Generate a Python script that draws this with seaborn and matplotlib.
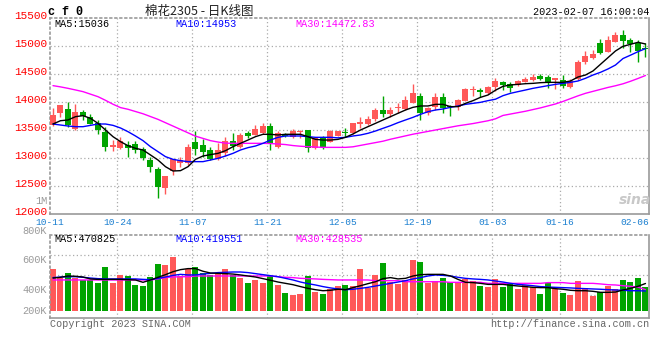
import matplotlib

matplotlib.use("Agg")
import matplotlib.pyplot as plt
import matplotlib.transforms as mtransforms
import numpy as np
import pandas as pd
import seaborn as sns

# CF2305 daily bars, 2022-10-11 .. 2023-02-07
OPEN = [13589, 13803, 13875, 13518, 13816, 13732, 13625, 13470, 13202, 13173,
        13232, 13244, 13155, 12964, 12804, 12459, 12768, 12905, 12905, 13290,
        13232, 13143, 12982, 13095, 13304, 13202, 13453, 13411, 13453, 13571,
        13202, 13420, 13369, 13470, 13500, 13173, 13369, 13292, 13399, 13455,
        13441, 13601, 13607, 13696, 13857, 13786, 13890, 13881, 13988, 14107,
        13810, 13917, 14083, 13925, 13917, 14024, 14220, 14220, 14155, 14274,
        14351, 14315, 14304, 14363, 14393, 14470, 14452, 14393, 14393, 14274,
        14411, 14708, 14780, 15048, 14899, 15077, 15196, 15107, 15048, 14964]
CLOSE = [13768, 13946, 13589, 13821, 13755, 13612, 13505, 13202, 13232, 13303,
         13184, 13143, 12994, 12845, 12488, 12679, 12975, 12964, 13202, 13160,
         13113, 12982, 13143, 13304, 13220, 13411, 13399, 13524, 13571, 13262,
         13441, 13395, 13488, 13482, 13173, 13351, 13202, 13488, 13482, 13441,
         13631, 13649, 13696, 13857, 13786, 13857, 13917, 14036, 14167, 13798,
         13893, 14083, 13893, 13917, 14036, 14232, 14232, 14179, 14274, 14375,
         14304, 14256, 14375, 14405, 14452, 14410, 14363, 14423, 14292, 14375,
         14720, 14827, 14857, 14869, 15107, 15196, 15089, 15030, 14911, 14946]
HIGH = [13893, 13950, 14000, 13964, 13857, 13780, 13679, 13559, 13321, 13380,
        13303, 13303, 13202, 13023, 12845, 12679, 12990, 13023, 13245, 13482,
        13334, 13202, 13262, 13381, 13441, 13441, 13488, 13595, 13631, 13631,
        13488, 13450, 13512, 13500, 13500, 13369, 13393, 13500, 13490, 13530,
        13631, 13738, 13750, 13893, 14107, 13917, 13988, 14113, 14321, 14155,
        13917, 14167, 14155, 13946, 14050, 14250, 14286, 14256, 14292, 14423,
        14375, 14351, 14393, 14452, 14494, 14494, 14482, 14435, 14482, 14411,
        14750, 14905, 14922, 15125, 15178, 15256, 15286, 15149, 15107, 15048]
LOW = [13571, 13726, 13554, 13500, 13679, 13600, 13423, 13125, 13125, 13160,
       13023, 13084, 12964, 12755, 12280, 12352, 12696, 12845, 12875, 13053,
       13012, 12964, 12964, 13036, 13143, 13173, 13351, 13411, 13429, 13143,
       13185, 13370, 13351, 13351, 13101, 13160, 13155, 13280, 13390, 13381,
       13429, 13530, 13589, 13666, 13738, 13738, 13798, 13857, 13988, 13679,
       13768, 13857, 13810, 13750, 13857, 14012, 14107, 14083, 14140, 14197,
       14214, 14185, 14280, 14351, 14375, 14393, 14244, 14226, 14256, 14256,
       14400, 14672, 14770, 14851, 14890, 15070, 14971, 14899, 14720, 14810]

MA5 = [13607, 13666, 13679, 13738, 13756, 13708, 13619, 13500, 13381, 13292,
       13220, 13173, 13143, 13054, 12964, 12845, 12768, 12774, 12845, 12976,
       13036, 13060, 13083, 13131, 13202, 13262, 13321, 13381, 13423, 13423,
       13411, 13423, 13423, 13423, 13381, 13333, 13321, 13321, 13333, 13369,
       13429, 13500, 13560, 13619, 13679, 13738, 13798, 13857, 13905, 13929,
       13929, 13958, 13958, 13917, 13917, 13976, 14024, 14083, 14125, 14210,
       14280, 14304, 14315, 14327, 14333, 14345, 14351, 14351, 14351, 14375,
       14446, 14482, 14554, 14673, 14792, 14911, 14994, 15030, 15066, 15036]
MA10 = [13607, 13589, 13571, 13559, 13559, 13583, 13607, 13607, 13583, 13536,
        13470, 13393, 13310, 13202, 13113, 13024, 12976, 12952, 12935, 12935,
        12935, 12964, 12994, 13036, 13083, 13143, 13185, 13214, 13262, 13321,
        13369, 13393, 13393, 13393, 13381, 13369, 13369, 13369, 13360, 13369,
        13393, 13411, 13441, 13482, 13530, 13577, 13631, 13679, 13726, 13780,
        13827, 13857, 13875, 13905, 13929, 13958, 13976, 13994, 14024, 14050,
        14113, 14155, 14185, 14214, 14244, 14268, 14292, 14315, 14333, 14351,
        14375, 14423, 14482, 14530, 14590, 14660, 14776, 14836, 14898, 14953]
MA30 = [14292, 14270, 14244, 14215, 14185, 14140, 14095, 14030, 13960, 13900,
        13870, 13830, 13790, 13740, 13690, 13630, 13570, 13510, 13450, 13390,
        13350, 13310, 13285, 13265, 13262, 13262, 13262, 13262, 13262, 13258,
        13250, 13240, 13222, 13210, 13202, 13196, 13190, 13190, 13190, 13190,
        13200, 13225, 13250, 13275, 13300, 13335, 13365, 13395, 13425, 13450,
        13475, 13500, 13525, 13550, 13575, 13595, 13615, 13640, 13665, 13700,
        13760, 13785, 13810, 13835, 13865, 13895, 13930, 13965, 14010, 14060,
        14110, 14155, 14190, 14225, 14260, 14290, 14325, 14370, 14420, 14473]

VOLUME = [569, 511, 542, 511, 495, 495, 475, 583, 475, 531,
          522, 461, 454, 515, 603, 597, 653, 522, 569, 583,
          542, 529, 542, 569, 529, 508, 475, 495, 475, 522,
          461, 407, 393, 400, 522, 414, 400, 434, 454, 461,
          454, 569, 443, 529, 610, 483, 468, 495, 630, 617,
          475, 488, 508, 479, 479, 502, 488, 454, 447, 502,
          447, 468, 434, 461, 447, 400, 475, 434, 407, 393,
          488, 441, 386, 414, 454, 434, 495, 483, 511, 450]  # thousands
VOL_MA5 = [508, 513, 522, 520, 515, 502, 499, 499, 499, 499,
           497, 495, 479, 495, 513, 531, 551, 565, 572, 572,
           554, 542, 540, 538, 535, 529, 522, 515, 504, 493,
           481, 472, 463, 450, 438, 429, 422, 425, 432, 429,
           443, 456, 470, 483, 504, 511, 502, 506, 522, 531,
           533, 533, 533, 522, 499, 479, 477, 472, 465, 465,
           465, 459, 454, 450, 445, 443, 443, 436, 432, 425,
           422, 422, 418, 411, 411, 413, 427, 438, 452, 471]
VOL_MA10 = [511, 515, 517, 517, 513, 508, 504, 502, 502, 502,
            502, 502, 499, 497, 506, 515, 526, 533, 529, 529,
            535, 540, 545, 547, 549, 549, 545, 538, 531, 524,
            517, 506, 495, 481, 470, 461, 450, 441, 434, 429,
            432, 438, 445, 454, 463, 472, 481, 490, 502, 511,
            522, 529, 526, 522, 513, 506, 502, 499, 495, 488,
            481, 472, 465, 461, 456, 450, 447, 445, 443, 441,
            438, 436, 434, 432, 429, 427, 425, 422, 422, 420]
VOL_MA30 = [495, 495, 495, 495, 495, 495, 495, 495, 495, 495,
            495, 495, 495, 495, 502, 511, 515, 517, 517, 522,
            522, 522, 522, 522, 522, 522, 522, 522, 522, 522,
            517, 513, 511, 506, 504, 502, 499, 497, 495, 495,
            495, 495, 495, 490, 490, 490, 490, 483, 483, 483,
            483, 483, 483, 479, 479, 479, 479, 479, 472, 472,
            472, 472, 472, 472, 472, 472, 477, 477, 477, 472,
            472, 472, 472, 468, 463, 461, 456, 452, 447, 429]

DATE_LABELS = ["10-11", "10-24", "11-07", "11-21", "12-05", "12-19", "01-03", "01-16", "02-06"]
DATE_LABEL_INDEX = [0, 9, 19, 29, 39, 49, 59, 68, 78]
PRICE_TICKS = list(range(12000, 15501, 500))
VOL_LABELS = ["1M", "800K", "600K", "400K", "200K"]
VOL_LABEL_VALUES = [1000, 800, 600, 400, 285]

RED = "#ff5858"
GREEN = "#00a400"
GRID = "#ababab"
BORDER = "#9a9a9a"
MONO = "Liberation Mono"
W, H = 660, 360


def box(left, top, right, bottom):
    return [left / W, 1 - bottom / H, (right - left) / W, (bottom - top) / H]


def px(x, y):
    return x / W, 1 - y / H


def style_axes(ax, vlines, hlines):
    for x in vlines:
        ax.axvline(x, color=GRID, lw=0.9, ls=(0, (1, 2)), zorder=0)
    for y in hlines:
        ax.axhline(y, color=GRID, lw=0.9, ls=(0, (1, 2)), zorder=0)
    for side, spine in ax.spines.items():
        spine.set_visible(True)
        spine.set_color(BORDER)
        spine.set_linewidth(1.2)
        if side in ("top", "left"):
            spine.set_linestyle((0, (1, 2)))


sns.set_theme(style="white")
plt.rcParams["font.family"] = [MONO, "Noto Sans CJK SC", "DejaVu Sans"]

df = pd.DataFrame({"open": OPEN, "high": HIGH, "low": LOW, "close": CLOSE,
                   "ma5": MA5, "ma10": MA10, "ma30": MA30,
                   "vol": np.array(VOLUME) * 1000, "vma5": np.array(VOL_MA5) * 1000,
                   "vma10": np.array(VOL_MA10) * 1000, "vma30": np.array(VOL_MA30) * 1000})
df["x"] = np.arange(len(df))
colors = np.where(df["close"] >= df["open"], RED, GREEN)

fig = plt.figure(figsize=(6.6, 3.6), dpi=100)
fig.patch.set_facecolor("white")
ax = fig.add_axes(box(50, 18, 649, 214))
axv = fig.add_axes(box(50, 235, 649, 318))

xlim = (-0.4, len(df) - 0.53)
grid_x = [i - 0.4 for i in DATE_LABEL_INDEX[1:-1]]

# price panel
ax.set_xlim(*xlim)
ax.set_ylim(12000, 15500)
style_axes(ax, grid_x, PRICE_TICKS[1:-1])
ax.vlines(df["x"], df["low"], df["high"], colors=colors, lw=1, zorder=2)
body_low = np.minimum(df["open"], df["close"])
body_h = np.maximum((df["close"] - df["open"]).abs(), 18)
ax.bar(df["x"], body_h, bottom=body_low, width=0.8, color=colors, lw=0, zorder=3)
for col, c in (("ma30", "#ff00ff"), ("ma10", "#0000ff"), ("ma5", "black")):
    sns.lineplot(data=df, x="x", y=col, ax=ax, color=c, lw=1, zorder=4)
ax.set_xlabel("")
ax.set_ylabel("")
ax.set_yticks(PRICE_TICKS)
ax.set_yticklabels([str(t) for t in PRICE_TICKS])
ax.set_xticks([i - 0.4 for i in DATE_LABEL_INDEX])
ax.set_xticklabels(DATE_LABELS)
ax.tick_params(axis="y", length=0, pad=2, labelsize=8, labelcolor="#ff0000")
ax.tick_params(axis="x", length=0, pad=3, labelsize=6.8, labelcolor="#1a7fd0")
lift = mtransforms.ScaledTranslation(0, 2 / 72, fig.dpi_scale_trans)
for lab in ax.get_yticklabels():
    lab.set_transform(lab.get_transform() + lift)

# volume panel
VOL_BASE = 285000
axv.set_xlim(*xlim)
axv.set_ylim(237000, 800000)
style_axes(axv, grid_x, [393000, 529000, 664000])
axv.bar(df["x"], df["vol"] - VOL_BASE, bottom=VOL_BASE, width=0.8, color=colors, lw=0, zorder=2)
for col, c in (("vma30", "#ff00ff"), ("vma10", "#0000ff"), ("vma5", "black")):
    sns.lineplot(data=df, x="x", y=col, ax=axv, color=c, lw=1, zorder=4)
axv.set_xlabel("")
axv.set_ylabel("")
axv.set_xticks([])
axv.set_yticks([])
for lab, val in zip(VOL_LABELS, VOL_LABEL_VALUES):
    axv.annotate(lab, xy=(0, val * 1000), xycoords=("axes fraction", "data"),
                 xytext=(-2, 3 if lab != "200K" else 0), textcoords="offset points",
                 ha="right", va="center", fontsize=7.4, color="#9a9a9a",
                 annotation_clip=False)

# header and legends
fig.text(*px(48, 12), "c f 0", fontsize=8.5, fontweight="bold", color="black", va="center")
fig.text(*px(199, 11), "棉花2305 - 日K线图", fontsize=9, color="#222222", ha="center",
         va="center", family=["Noto Sans CJK SC", "DejaVu Sans"])
fig.text(*px(649, 12), "2023-02-07 16:00:04", fontsize=7.3, ha="right", va="center", color="black")
for x0, txt, c in ((54, "MA5:15036", "black"), (175, "MA10:14953", "#0000ff"),
                   (295, "MA30:14472.83", "#ff00ff")):
    fig.text(*px(x0, 24), txt, fontsize=7.3, color=c, va="center")
for x0, txt, c in ((54, "MA5:470825", "black"), (175, "MA10:419551", "#0000ff"),
                   (295, "MA30:428535", "#ff00ff")):
    fig.text(*px(x0, 238.5), txt, fontsize=7.3, color=c, va="center")
fig.text(*px(50, 324), "Copyright 2023 SINA.COM", fontsize=7.3, color="#666666", va="center")
fig.text(*px(649, 324), "http://finance.sina.com.cn", fontsize=7.3, color="#666666",
         ha="right", va="center")
fig.text(*px(635, 200), "sina", fontsize=10, color="#c8c8c8", ha="center", va="center",
         style="italic", fontweight="bold", family="DejaVu Sans")

fig.savefig("out.png", dpi=100)
plt.close(fig)
